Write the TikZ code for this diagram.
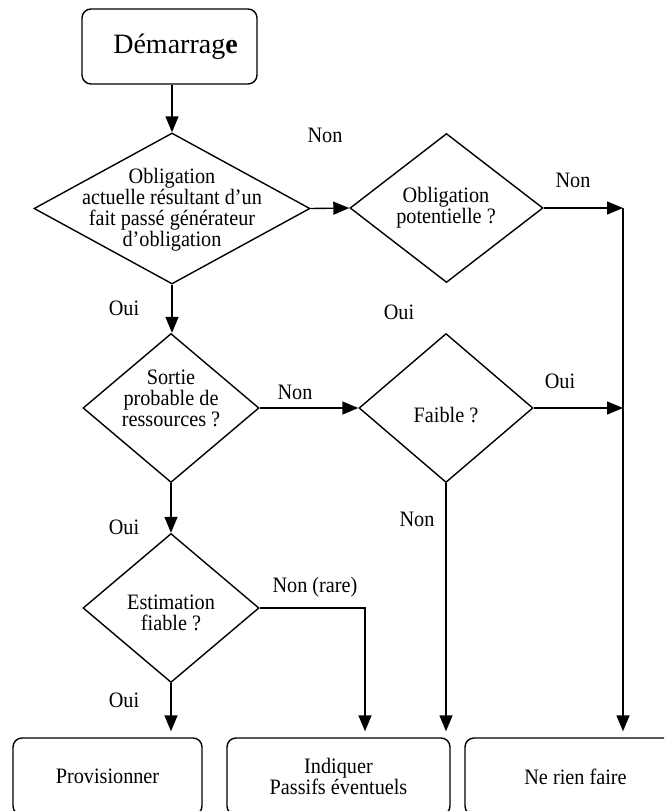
\documentclass[tikz,border=0pt]{standalone}
\usepackage{fontspec}
\setmainfont{Liberation Serif}
\newfontfamily\narrowserif[FakeStretch=0.92]{Liberation Serif}
\usetikzlibrary{shapes.geometric,arrows.meta}
\begin{document}
\begin{tikzpicture}[x=1pt,y=-1pt,
  line width=1.4pt,
  box/.style={draw,rounded corners=9pt,inner sep=0pt,align=center,
    font=\narrowserif\fontsize{22}{21}\selectfont},
  decision/.style={draw,diamond,inner sep=0pt,line join=miter},
  txt/.style={inner sep=0pt,align=center,font=\narrowserif\fontsize{22}{21}\selectfont},
  flow/.style={-{Triangle[length=16pt,width=13pt]}},
  ]
\path[use as bounding box,clip] (0,0) rectangle (664,811);

% start box
\node[box,minimum width=175pt,minimum height=75pt,
  font=\rmfamily\fontsize{28}{30}\selectfont] (start) at (169.5,46.5)
  {\hspace*{12pt}Démarrag\textbf{e}};

% decisions
\node[decision,minimum width=276pt,minimum height=151pt] (d1) at (172,208.5) {};
\node[txt] (d1t) at (172,210)
  {Obligation\\actuelle résultant d’un\\fait passé générateur\\d’obligation};

\node[decision,minimum width=193pt,minimum height=149pt] (d2) at (446.5,208) {};
\node[txt] (d2t) at (446,207.5) {Obligation\\potentielle ?};

\node[decision,minimum width=176pt,minimum height=149pt] (d3) at (171,408) {};
\node[txt] (d3t) at (171,398) {Sortie\\probable de\\ressources ?};

\node[decision,minimum width=174pt,minimum height=149pt] (d4) at (446,408) {};
\node[txt] (d4t) at (446,415) {Faible ?};

\node[decision,minimum width=176pt,minimum height=149pt] (d5) at (171,608) {};
\node[txt] (d5t) at (171,613) {Estimation\\fiable ?};

% outcomes
\node[box,minimum width=189pt,minimum height=77pt] (prov) at (107.5,776.5) {Provisionner};
\node[box,minimum width=223pt,minimum height=77pt] (ind) at (338.5,776.5)
  {Indiquer\\Passifs éventuels};
\node[box,minimum width=221pt,minimum height=77pt] (nr) at (575.5,776.5) {Ne rien faire};

% junction points
\coordinate (j1) at (623,208);
\coordinate (j2) at (623,408);
\coordinate (j3) at (365,608);

% connectors
\draw[flow] (start.south -| d1.north) -- (d1.north);
\draw[flow] (d1.east) -- (d2.west);
\draw[flow] (d2.east) -- (j1);
\draw[flow] (d1.south) -- (d1.south |- d3.north);
\draw[flow] (d3.east) -- (d4.west);
\draw[flow] (d4.east) -- (j2);
\draw[flow,shorten >=6pt] (j1) -- (j1 |- nr.north);
\draw[flow] (d3.south) -- (d5.north);
\draw[flow,shorten >=6pt] (d4.south) -- (d4.south |- ind.north);
\draw[flow,shorten >=6pt] (d5.east) -- (j3) -- (j3 |- ind.north);
\draw[flow,shorten >=6pt] (d5.south) -- (d5.south |- prov.north);

% branch labels
\node[txt] (l1) at (325,135) {Non};
\node[txt] (l2) at (573,180) {Non};
\node[txt] (l3) at (124,308) {Oui};
\node[txt] (l4) at (399,312) {Oui};
\node[txt] (l5) at (295,392) {Non};
\node[txt] (l6) at (560,381) {Oui};
\node[txt] (l7) at (417,519) {Non};
\node[txt] (l8) at (124,527) {Oui};
\node[txt] (l9) at (315,587) {Non (rare)};
\node[txt] (l10) at (124,700) {Oui};
\end{tikzpicture}
\end{document}
